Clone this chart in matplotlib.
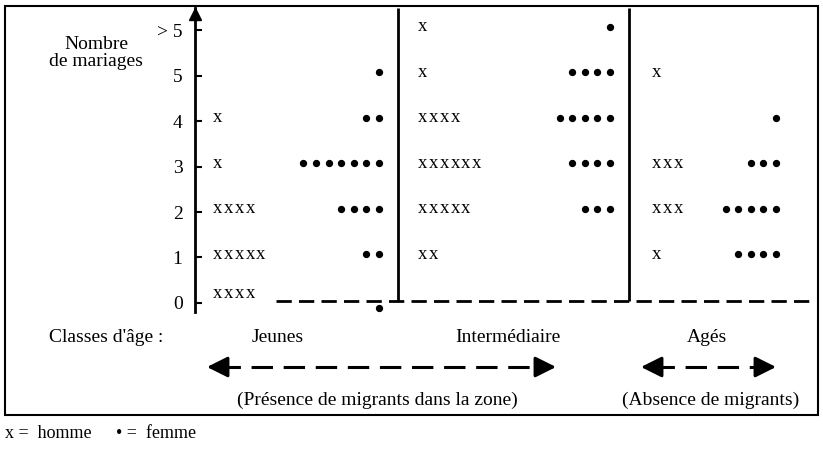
import numpy as np
import matplotlib.pyplot as plt
from matplotlib.patches import Rectangle

plt.rcParams['font.family'] = ['Liberation Serif', 'DejaVu Serif']

# number of marriages (rows of the chart)
level_labels = ['0', '1', '2', '3', '4', '5', '> 5']
levels = np.arange(len(level_labels))

classes = ['Jeunes', 'Intermédiaire', 'Agés']

# counts per row: x = homme, • = femme
hommes_jeunes = [4, 5, 4, 1, 1, 0, 0]
femmes_jeunes = [1, 2, 4, 7, 2, 1, 0]
hommes_inter = [0, 2, 5, 6, 4, 1, 1]
femmes_inter = [0, 0, 3, 4, 5, 4, 1]
hommes_ages = [0, 1, 3, 3, 0, 1, 0]
femmes_ages = [0, 4, 5, 3, 1, 0, 0]

hommes = [hommes_jeunes, hommes_inter, hommes_ages]
femmes = [femmes_jeunes, femmes_inter, femmes_ages]

W, H = 823, 449
fig = plt.figure(figsize=(W / 100, H / 100), dpi=100)

# main plot area, x in pixel-like units
ax = fig.add_axes([195 / W, 1 - 312 / H, (818 - 195) / W, (312 - 8) / H])
ax.set_xlim(195, 818)
ax.set_ylim(-0.198, 6.484)
ax.patch.set_alpha(0)
for s in ['top', 'right', 'bottom']:
    ax.spines[s].set_visible(False)
ax.spines['left'].set_linewidth(2)
ax.set_xticks([])
ax.set_yticks(levels)
ax.set_yticklabels(level_labels, fontsize=14)
ax.tick_params(axis='y', direction='in', length=5, width=1.5, pad=9)
ax.plot([195], [6.36], marker='^', ms=8, color='k', clip_on=False)

men_x0 = [213, 418, 652]
women_x1 = [379, 610, 776]
men_step, women_step = 10.8, 12.6

for g in range(len(classes)):
    for lv, n in zip(levels, hommes[g]):
        y = lv + (0.2 if lv == 0 else 0.07)
        for i in range(n):
            ax.text(men_x0[g] + men_step * i, y, 'x', fontsize=13.5,
                    ha='left', va='center')
    for lv, n in zip(levels, femmes[g]):
        if n == 0:
            continue
        y = lv + (-0.12 if lv == 0 else 0.07)
        xs = women_x1[g] - women_step * np.arange(n)
        ax.scatter(xs, np.full(n, y), s=18, color='k', zorder=3)

# separators and baseline
ax.vlines([398, 629], 0.05, 6.484, color='k', lw=2)
ax.plot([276, 812], [0.04, 0.04], color='k', lw=2,
        linestyle=(0, (5.5, 2.6)))

# "Nombre de mariages"
ax.text(96, 5.5, 'Nombre\nde mariages', fontsize=14, ha='center', va='center',
        linespacing=1.0)

# overlay for frame and bottom annotations (pixel coords)
ov = fig.add_axes([0, 0, 1, 1])
ov.set_xlim(0, W)
ov.set_ylim(H, 0)
ov.axis('off')
ov.patch.set_alpha(0)
ov.add_patch(Rectangle((5, 6), 813, 409, fill=False, lw=1.5, color='k'))

ov.text(106, 337, "Classes d'âge :", fontsize=14, ha='center', va='center')
ov.text(278, 337, classes[0], fontsize=14, ha='center', va='center')
ov.text(508, 337, classes[1], fontsize=14, ha='center', va='center')
ov.text(707, 337, classes[2], fontsize=14, ha='center', va='center')

def dashed_arrow(x1, x2, y):
    ov.plot([x1 + 12, x2 - 12], [y, y], color='k', lw=2.2,
            linestyle=(0, (7, 3.5)))
    for tip, tail in [(x1, x1 + 16), (x2, x2 - 16)]:
        ov.annotate('', xy=(tip, y), xytext=(tail, y),
                    arrowprops=dict(arrowstyle='-|>,head_length=0.9,head_width=0.45',
                                    color='k', lw=2.2, mutation_scale=14,
                                    shrinkA=0, shrinkB=0))

dashed_arrow(207, 556, 367)
dashed_arrow(641, 776, 367)

ov.text(377, 400, '(Présence de migrants dans la zone)', fontsize=14,
        ha='center', va='center')
ov.text(711, 400, '(Absence de migrants)', fontsize=14,
        ha='center', va='center')

ov.text(5, 434, 'x =  homme', fontsize=13, ha='left', va='center')
ov.text(116, 434, '• =  femme', fontsize=13, ha='left', va='center')

fig.savefig('out.png', dpi=100)
